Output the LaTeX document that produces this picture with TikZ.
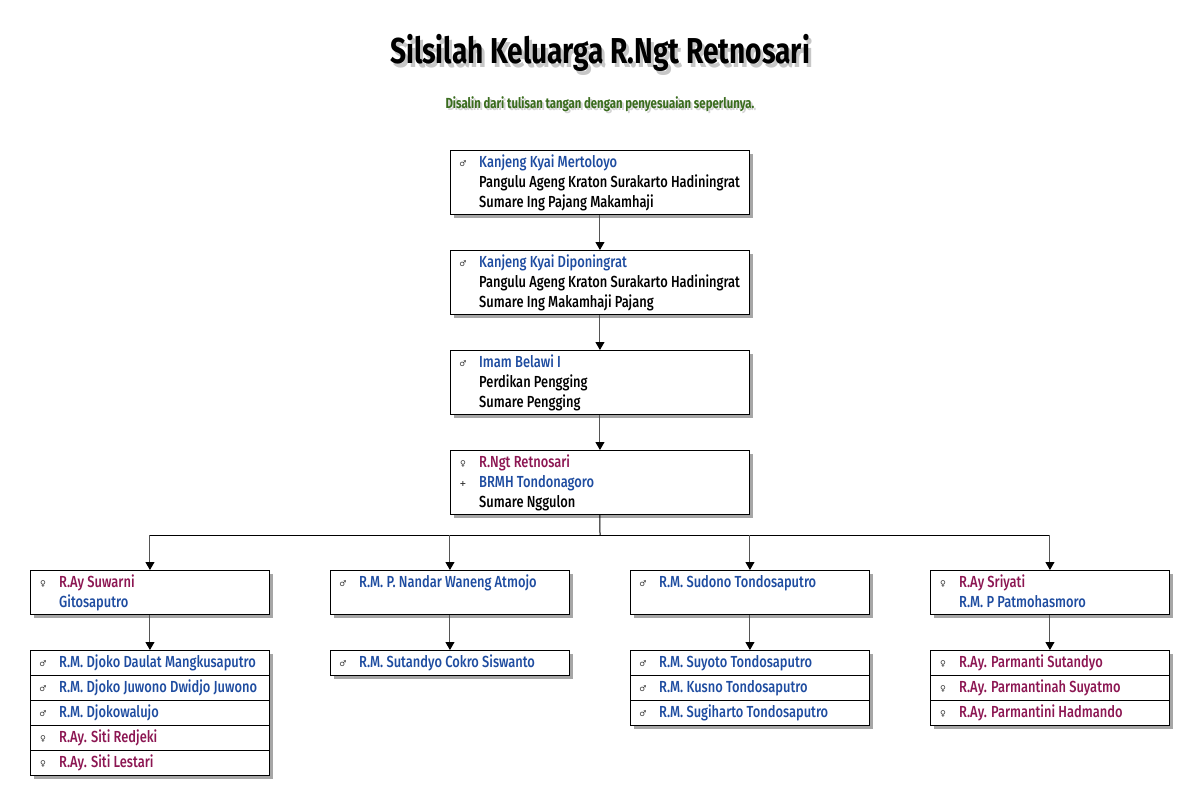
\documentclass[tikz,border=0pt]{standalone}
\usepackage{fontspec}
\setmainfont{Fira Sans}[FakeStretch=0.78]
\IfFontExistsTF{Fira Sans Medium}
  {\newfontfamily\bodyfont{Fira Sans Medium}[FakeStretch=0.805]}
  {\newfontfamily\bodyfont{Fira Sans}[FakeStretch=0.82,UprightFeatures={FakeBold=1}]}
\newfontfamily\symfont{DejaVu Sans}
\usetikzlibrary{arrows.meta,shadows}
\definecolor{mblue}{RGB}{30,76,160}
\definecolor{fmaroon}{RGB}{140,22,82}
\definecolor{subgreen}{RGB}{58,108,30}
\definecolor{conngray}{RGB}{85,85,85}
\tikzset{
  box/.style={draw=black, line width=0.9pt, fill=white, inner sep=0pt, anchor=north west,
    drop shadow={shadow xshift=4pt, shadow yshift=-4pt, opacity=0.35, fill=black}},
  symb/.style={inner sep=0pt, anchor=base, font=\symfont\fontsize{8}{8}\selectfont, text=black!80},
  txt/.style={inner sep=0pt, anchor=base west, font=\bodyfont\fontsize{16}{18}\selectfont},
  arr/.style={draw=conngray, line width=1pt, -{Triangle[length=8pt,width=9pt,color=black]}},
  bus/.style={draw=black, line width=1pt},
  sep/.style={line width=0.9pt}
}
% #1 name, #2 box left x, #3 line centre y, #4 symbol, #5 colour, #6 text
\newcommand{\ent}[6]{%
  \node[symb] (#1s) at (#2+13,#3+4) {#4};
  \node[txt, text=#5] (#1t) at (#2+29,#3+5.5) {#6};}
\newcommand{\txtonly}[5]{%
  \node[txt, text=#4] (#1t) at (#2+29,#3+5.5) {#5};}
\begin{document}
\begin{tikzpicture}[x=1pt,y=-1pt]
\useasboundingbox[fill=white] (0,0) rectangle (1200,800);
% title
\node[font=\bfseries\fontsize{36}{40}\selectfont, text=black!40, opacity=0.55] (titlesh) at (603,57) {Silsilah Keluarga R.Ngt Retnosari};
\node[font=\bfseries\fontsize{36}{40}\selectfont, text=black] (title) at (600,53) {Silsilah Keluarga R.Ngt Retnosari};
\node[font=\bfseries\fontsize{14.6}{16}\selectfont, text=black!30, opacity=0.55] (subsh) at (602,106) {Disalin dari tulisan tangan dengan penyesuaian seperlunya.};
\node[font=\bfseries\fontsize{14.6}{16}\selectfont, text=subgreen] (sub) at (600,104) {Disalin dari tulisan tangan dengan penyesuaian seperlunya.};
% main column
\node[box, minimum width=299pt, minimum height=64pt] (p1) at (450,150) {};
\node[box, minimum width=299pt, minimum height=64pt] (p2) at (450,250) {};
\node[box, minimum width=299pt, minimum height=64pt] (p3) at (450,350) {};
\node[box, minimum width=299pt, minimum height=64pt] (p4) at (450,450) {};
\ent{pa}{450}{162}{♂}{mblue}{Kanjeng Kyai Mertoloyo}
\txtonly{pb}{450}{182}{black}{Pangulu Ageng Kraton Surakarto Hadiningrat}
\txtonly{pc}{450}{202}{black}{Sumare Ing Pajang Makamhaji}
\ent{qa}{450}{262}{♂}{mblue}{Kanjeng Kyai Diponingrat}
\txtonly{qb}{450}{282}{black}{Pangulu Ageng Kraton Surakarto Hadiningrat}
\txtonly{qc}{450}{302}{black}{Sumare Ing Makamhaji Pajang}
\ent{ra}{450}{362}{♂}{mblue}{Imam Belawi I}
\txtonly{rb}{450}{382}{black}{Perdikan Pengging}
\txtonly{rc}{450}{402}{black}{Sumare Pengging}
\ent{sa}{450}{462}{♀}{fmaroon}{R.Ngt Retnosari}
\ent{sb}{450}{482}{\textbf{+}}{mblue}{BRMH Tondonagoro}
\txtonly{sc}{450}{502}{black}{Sumare Nggulon}
% children
\node[box, minimum width=239pt, minimum height=44pt] (c1) at (30,570) {};
\node[box, minimum width=239pt, minimum height=44pt] (c2) at (330,570) {};
\node[box, minimum width=239pt, minimum height=44pt] (c3) at (630,570) {};
\node[box, minimum width=239pt, minimum height=44pt] (c4) at (930,570) {};
\ent{ca}{30}{582}{♀}{fmaroon}{R.Ay Suwarni}
\txtonly{cb}{30}{602}{mblue}{Gitosaputro}
\ent{da}{330}{582}{♂}{mblue}{R.M. P. Nandar Waneng Atmojo}
\ent{ea}{630}{582}{♂}{mblue}{R.M. Sudono Tondosaputro}
\ent{fa}{930}{582}{♀}{fmaroon}{R.Ay Sriyati}
\txtonly{fb}{930}{602}{mblue}{R.M. P Patmohasmoro}
% grandchildren groups
\node[box, minimum width=239pt, minimum height=125pt] (g1) at (30,650) {};
\node[box, minimum width=239pt, minimum height=25pt] (g2) at (330,650) {};
\node[box, minimum width=239pt, minimum height=75pt] (g3) at (630,650) {};
\node[box, minimum width=239pt, minimum height=75pt] (g4) at (930,650) {};
\foreach \yy in {675,700,725,750}{\draw[sep] (g1.west |- 0,\yy) -- (g1.east |- 0,\yy);}
\foreach \yy in {675,700}{\draw[sep] (g3.west |- 0,\yy) -- (g3.east |- 0,\yy);
  \draw[sep] (g4.west |- 0,\yy) -- (g4.east |- 0,\yy);}
\ent{ga}{30}{662}{♂}{mblue}{R.M. Djoko Daulat Mangkusaputro}
\ent{gb}{30}{687}{♂}{mblue}{R.M. Djoko Juwono Dwidjo Juwono}
\ent{gc}{30}{712}{♂}{mblue}{R.M. Djokowalujo}
\ent{gd}{30}{737}{♀}{fmaroon}{R.Ay. Siti Redjeki}
\ent{ge}{30}{762}{♀}{fmaroon}{R.Ay. Siti Lestari}
\ent{ha}{330}{662}{♂}{mblue}{R.M. Sutandyo Cokro Siswanto}
\ent{ia}{630}{662}{♂}{mblue}{R.M. Suyoto Tondosaputro}
\ent{ib}{630}{687}{♂}{mblue}{R.M. Kusno Tondosaputro}
\ent{ic}{630}{712}{♂}{mblue}{R.M. Sugiharto Tondosaputro}
\ent{ja}{930}{662}{♀}{fmaroon}{R.Ay. Parmanti Sutandyo}
\ent{jb}{930}{687}{♀}{fmaroon}{R.Ay. Parmantinah Suyatmo}
\ent{jc}{930}{712}{♀}{fmaroon}{R.Ay. Parmantini Hadmando}
% connectors
\draw[arr] (p1.south) -- (p2.north);
\draw[arr] (p2.south) -- (p3.north);
\draw[arr] (p3.south) -- (p4.north);
\coordinate (busmid) at (600,535);
\draw[bus] (p4.south) -- (busmid);
\draw[bus] (c1.north |- busmid) -- (c4.north |- busmid);
\draw[arr] (c1.north |- busmid) -- (c1.north);
\draw[arr] (c2.north |- busmid) -- (c2.north);
\draw[arr] (c3.north |- busmid) -- (c3.north);
\draw[arr] (c4.north |- busmid) -- (c4.north);
\draw[arr] (c1.south) -- (g1.north);
\draw[arr] (c2.south) -- (g2.north);
\draw[arr] (c3.south) -- (g3.north);
\draw[arr] (c4.south) -- (g4.north);
\end{tikzpicture}
\end{document}
